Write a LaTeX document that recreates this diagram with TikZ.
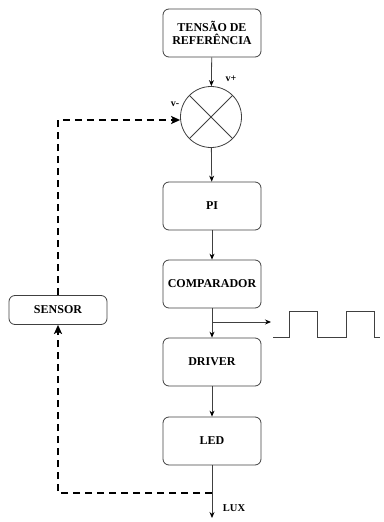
\documentclass[tikz,border=0pt]{standalone}
\usepackage{fontspec}
\setmainfont{Liberation Serif}
\usetikzlibrary{arrows.meta}
\begin{document}
\begin{tikzpicture}[x=1pt,y=-1pt,
  blk/.style={draw=black!75, line width=0.8pt, rounded corners=6pt, minimum width=98pt, minimum height=48pt, align=center, font=\bfseries\fontsize{12}{13.5}\selectfont, inner sep=1pt},
  sblk/.style={blk, minimum height=29pt},
  conn/.style={draw=black!75, line width=0.8pt, -{Stealth[length=6pt,width=5pt,black]}},
  fb/.style={draw=black, line width=2.2pt, dash pattern=on 7pt off 5pt},
  fbarrow/.style={fb, -{Stealth[length=9pt,width=8pt,inset=2pt]}},
  small/.style={font=\bfseries\fontsize{10}{11}\selectfont, inner sep=0pt}]
\useasboundingbox (0,0) rectangle (383,522);
\node[blk] (ref) at (212,33) {TENSÃO DE\\REFERÊNCIA};
\node[draw=black!75, line width=0.8pt, circle, minimum size=61pt, inner sep=0pt] (sum) at (211,117) {};
\draw[black!75, line width=0.8pt] (sum.north west) -- (sum.south east) (sum.north east) -- (sum.south west);
\node[blk] (pi) at (212,206) {PI};
\node[blk] (comp) at (212,284) {COMPARADOR};
\node[blk] (drv) at (212,362) {DRIVER};
\node[blk] (led) at (212,441) {LED};
\node[sblk] (sens) at (58,310) {SENSOR};
\node[small] (vp) at (231,79) {v+};
\node[small] (vm) at (175,104) {v-};
\node[font=\bfseries\fontsize{10.5}{12}\selectfont, inner sep=0pt] (lux) at (234,508) {LUX};
\coordinate (luxend) at (212,518);
\coordinate (tap) at (212,493);
\coordinate (fbl) at (58,493);
\coordinate (fbt) at (58,120);
\coordinate (ctap) at (212,322);
\coordinate (cout) at (271,322);
\draw[conn] (ref) -- (sum);
\draw[conn] (sum) -- (pi);
\draw[conn] (pi) -- (comp);
\draw[conn] (comp) -- (drv);
\draw[conn] (drv) -- (led);
\draw[conn] (led) -- (luxend);
\draw[conn] (ctap) -- (cout);
\draw[fbarrow] (tap) -- (fbl) -- (sens.south);
\draw[fbarrow] (sens.north) -- (fbt) -- (fbt -| sum.west);
\draw[black!75, line width=0.8pt] (273,337) -- (289,337) -- (289,311) -- (317,311) -- (317,337) -- (346,337) -- (346,311) -- (374,311) -- (374,337) -- (380,337);
\end{tikzpicture}
\end{document}
